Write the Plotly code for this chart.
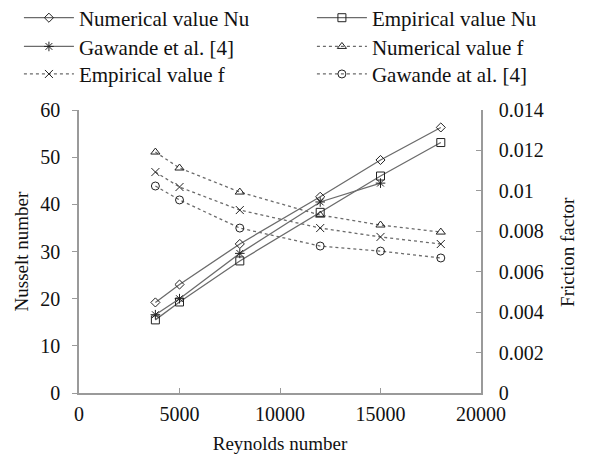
import plotly.graph_objects as go

re_vals = [3800, 5000, 8000, 12000, 15000, 18000]
re_gaw = [3800, 5000, 8000, 12000, 15000]
nu_numerical = [19.2, 23.0, 31.6, 41.6, 49.4, 56.3]
nu_empirical = [15.5, 19.3, 28.0, 38.3, 46.0, 53.1]
nu_gawande = [16.6, 20.0, 29.6, 40.5, 44.5]
f_numerical = [0.01192, 0.01113, 0.00994, 0.00880, 0.00831, 0.00796]
f_empirical = [0.01093, 0.01019, 0.00905, 0.00816, 0.00772, 0.00737]
f_gawande = [0.01024, 0.00955, 0.00816, 0.00727, 0.00702, 0.00668]

names = ["Numerical value Nu", "Empirical value Nu", "Gawande et al. [4]",
         "Numerical value f", "Empirical value f", "Gawande at al. [4]"]

x_ticks = [0, 5000, 10000, 15000, 20000]
nu_ticks = [0, 10, 20, 30, 40, 50, 60]
f_ticks = [0, 0.002, 0.004, 0.006, 0.008, 0.01, 0.012, 0.014]

x_title = "Reynolds number"
y_title = "Nusselt number"
y2_title = "Friction factor"

LINE = "#6b6b6b"
MK = "#222222"
FONT = "Liberation Serif, Times New Roman, serif"

fig = go.Figure()

legend_ids = ["legend", "legend2", "legend3", "legend4", "legend5", "legend6"]

def add(i, x, y, symbol, size, dash, yaxis):
    fig.add_trace(go.Scatter(
        x=x, y=y, name=names[i], mode="lines+markers", yaxis=yaxis,
        legend=legend_ids[i],
        line=dict(color=LINE, width=1.3, dash=dash),
        marker=dict(symbol=symbol, size=size, color=MK,
                    line=dict(color=MK, width=1)),
    ))

add(0, re_vals, nu_numerical, "diamond-open", 7, "solid", "y")
add(1, re_vals, nu_empirical, "square-open", 8, "solid", "y")
add(2, re_gaw, nu_gawande, "asterisk-open", 8, "solid", "y")
add(3, re_vals, f_numerical, "triangle-up-open", 8, "dot", "y2")
add(4, re_vals, f_empirical, "x-thin-open", 8, "dot", "y2")
add(5, re_vals, f_gawande, "circle-open", 8, "dot", "y2")

axis_common = dict(showline=True, linecolor="#9a9a9a", linewidth=1.5,
                   showgrid=False, zeroline=False, ticklen=5,
                   tickcolor="#9a9a9a", tickfont=dict(size=20, color="#111"))

# legend grid: two columns, three rows (positions in container fractions)
col_x = [0.0188, 0.5231]
row_y = [0.9776, 0.9136, 0.8523]
legend_layout = {}
for i, lid in enumerate(legend_ids):
    legend_layout[lid] = dict(
        x=col_x[i % 2], y=row_y[i // 2], xanchor="left", yanchor="middle",
        xref="container", yref="container",
        font=dict(size=21, family=FONT, color="#111"),
        itemwidth=50, bgcolor="rgba(0,0,0,0)", borderwidth=0,
    )

fig.update_layout(
    width=581, height=449,
    margin=dict(l=71, r=108, t=102, b=64, autoexpand=False),
    paper_bgcolor="white", plot_bgcolor="white",
    font=dict(family=FONT, color="#111", size=19),
    xaxis=dict(range=[0, 20000], tickvals=x_ticks, ticktext=[str(v) for v in x_ticks],
               ticks="inside", ticklabelstandoff=2,
               title=dict(text=x_title, font=dict(size=19), standoff=13),
               **axis_common),
    yaxis=dict(range=[0, 60], tickvals=nu_ticks, ticktext=[str(v) for v in nu_ticks],
               ticks="outside", ticklabelstandoff=8,
               **axis_common),
    yaxis2=dict(range=[0, 0.014], overlaying="y", side="right",
                tickvals=f_ticks, ticktext=[f"{v:g}" for v in f_ticks],
                ticks="inside", ticklabelstandoff=12,
                **axis_common),
    showlegend=True,
    annotations=[
        dict(text=y_title, xref="paper", yref="paper", x=-0.142, y=0.5,
             xanchor="center", yanchor="middle", textangle=-90, showarrow=False,
             font=dict(size=19, family=FONT, color="#111")),
        dict(text=y2_title, xref="paper", yref="paper", x=1.215, y=0.5,
             xanchor="center", yanchor="middle", textangle=-90, showarrow=False,
             font=dict(size=19, family=FONT, color="#111")),
    ],
    **legend_layout,
)

fig.write_html("out.html")
